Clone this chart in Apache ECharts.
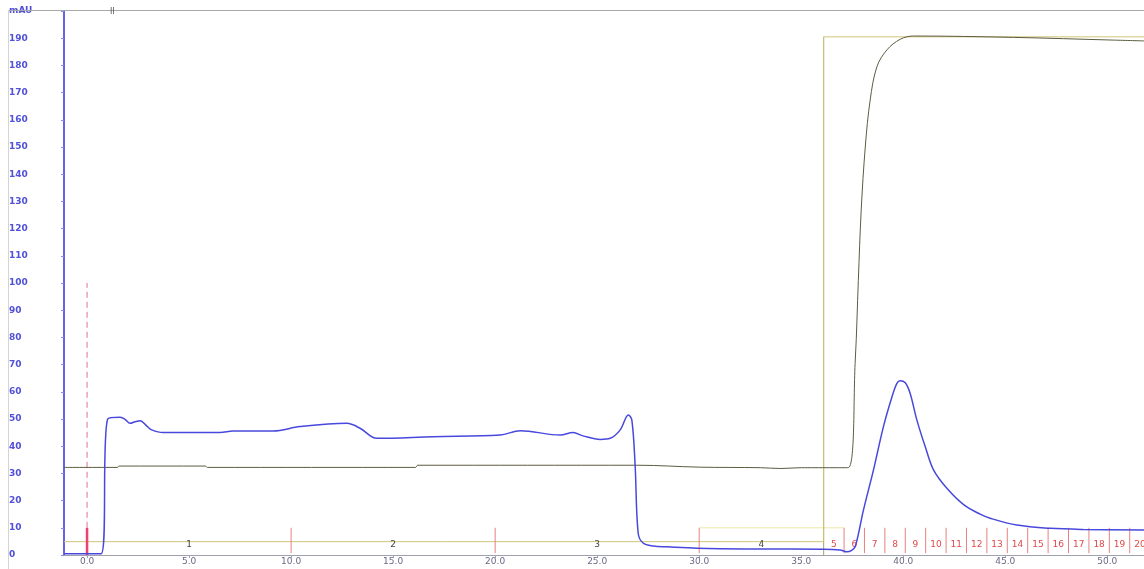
<!DOCTYPE html>
<html>
<head>
<meta charset="utf-8">
<script src="https://cdn.jsdelivr.net/npm/echarts@6/dist/echarts.min.js"></script>
<style>
  html, body { margin: 0; padding: 0; background: #fff; }
  #chart { width: 1144px; height: 569px; }
</style>
</head>
<body>
<div id="chart"></div>
<script>
// UV absorbance trace (mAU) against time (min)
const uvTime  = [-1.13, 0.69, 1.01, 1.62, 1.86, 2.11, 2.35, 2.60, 2.93, 3.17, 3.73, 6.52, 7.16, 9.12, 10.44, 12.73, 13.38, 14.2, 16.96, 20.25, 21.23, 23.19, 23.82, 24.31, 25.15, 25.64, 26.13, 26.53, 26.7, 26.86, 27.01, 27.25, 27.75, 28.43, 29.9, 32.99, 36.08, 36.91, 37.25, 37.45, 37.65, 38.05, 38.54, 39.03, 39.45, 39.69, 39.85, 40.10, 40.34, 40.67, 41.08, 41.49, 42.14, 42.96, 43.77, 44.26, 45.57, 47.21, 48.82, 51.8];
const uvValue = [0.5, 0.5, 50, 50.6, 49.9, 48.4, 49, 49.4, 47.4, 46, 45, 45, 45.6, 45.6, 47.2, 48.4, 46.6, 42.9, 43.5, 44.1, 45.7, 44.1, 45, 43.8, 42.5, 42.9, 46, 51.5, 49.6, 33, 8, 4.4, 3.3, 3, 2.5, 2.2, 2.1, 1.8, 1.2, 1.6, 3.1, 16.5, 31.2, 47.2, 58.2, 63.1, 64.1, 63.3, 59.4, 49.6, 39.8, 31.2, 24.5, 18.5, 15, 13.5, 11, 9.8, 9.4, 9.2];

// Conductivity trace
const condTime  = [-1.13, 1.5, 1.55, 5.8, 5.9, 16.1, 16.2, 27, 30, 33, 34, 35, 37.3, 37.65, 37.8, 37.94, 38.14, 38.38, 38.71, 39.2, 39.85, 40.5, 45.4, 50.3, 51.8];
const condValue = [32.2, 32.2, 32.7, 32.7, 32.2, 32.2, 33.0, 33.0, 32.3, 32.1, 31.8, 32.1, 32.1, 71.7, 101, 126.8, 150, 167.3, 179.5, 185.7, 189.6, 190.8, 190.3, 189.3, 189];

// Gradient / step program
const gradTime  = [-1.13, 36.1, 36.1, 51.8];
const gradValue = [4.9, 4.9, 190.5, 190.5];

// Fraction collection: boundaries (min) and fraction numbers
const fractionBounds = [0, 10, 20, 30, 36.1, 37.1, 38.1, 39.1, 40.1, 41.1, 42.1, 43.1, 44.1, 45.1, 46.1, 47.1, 48.1, 49.1, 50.1, 51.1, 52.1];
const fractionNames  = ['1', '2', '3', '4', '5', '6', '7', '8', '9', '10', '11', '12', '13', '14', '15', '16', '17', '18', '19', '20'];

// Injection mark and x-axis tick labels
const injectTime = 0;
const xTickValues = [0, 5, 10, 15, 20, 25, 30, 35, 40, 45, 50];

const zip = (a, b) => a.map((v, i) => [v, b[i]]);

const fractionTickData = fractionBounds
  .filter(t => t !== 0 && t !== 36.1 && t <= 51.8)
  .map(t => [t, 0]);
const fractionLabelData = fractionNames.map((n, i) => [
  (fractionBounds[i] + fractionBounds[i + 1]) / 2, 3.7, n, i
]);

const chart = echarts.init(document.getElementById('chart'), null, { renderer: 'canvas' });

chart.setOption({
  animation: false,
  backgroundColor: '#ffffff',
  grid: { left: 64, right: 0, top: 11, bottom: 14 },
  xAxis: {
    type: 'value',
    min: -1.13,
    max: 51.8,
    axisLine: { show: true, onZero: false, lineStyle: { color: '#a0a0b0', width: 1 } },
    axisTick: { show: true, customValues: xTickValues, length: 3, lineStyle: { color: '#a0a0b0' } },
    axisLabel: {
      customValues: xTickValues,
      formatter: v => v.toFixed(1),
      color: '#6a6a88',
      fontSize: 9,
      fontFamily: 'DejaVu Sans',
      margin: 2
    },
    splitLine: { show: false }
  },
  yAxis: {
    type: 'value',
    min: 0,
    max: 200,
    interval: 10,
    axisLine: { show: true, onZero: false, lineStyle: { color: '#6464e8', width: 2 } },
    axisTick: { show: true, length: 3, lineStyle: { color: '#8a8ae8' } },
    axisLabel: {
      align: 'left',
      margin: 55,
      color: '#5050d8',
      fontSize: 9,
      fontWeight: 'bold',
      fontFamily: 'DejaVu Sans',
      formatter: v => (v === 200 ? 'mAU' : String(v))
    },
    splitLine: { show: false }
  },
  graphic: [
    { type: 'line', shape: { x1: 8, y1: 10.5, x2: 1144, y2: 10.5 }, style: { stroke: '#a8a8a8', lineWidth: 1 }, z: 10 },
    { type: 'line', shape: { x1: 8.5, y1: 10, x2: 8.5, y2: 569 }, style: { stroke: '#d4d4d4', lineWidth: 1 }, z: 10 },
    { type: 'text', x: 110, y: 8, style: { text: 'II', fill: '#555', font: '8px DejaVu Sans' }, z: 10 }
  ],
  series: [
    {
      name: 'Gradient',
      type: 'line',
      data: zip(gradTime, gradValue),
      symbol: 'none',
      lineStyle: { color: '#cdc57a', width: 1 },
      z: 2
    },
    {
      name: 'Collector',
      type: 'line',
      data: [[30, 10], [37.1, 10]],
      symbol: 'none',
      lineStyle: { color: '#efe8a8', width: 1 },
      z: 1
    },
    {
      name: 'Fraction boundary',
      type: 'custom',
      data: [[36.1, 0]],
      encode: { x: 0, y: 1 },
      renderItem: (params, api) => {
        const a = api.coord([api.value(0), 0]);
        const b = api.coord([api.value(0), 190.5]);
        return { type: 'line', shape: { x1: a[0], y1: a[1], x2: b[0], y2: b[1] }, style: { stroke: '#a8a468', lineWidth: 1 } };
      },
      z: 2
    },
    {
      name: 'Fraction ticks',
      type: 'custom',
      data: fractionTickData,
      encode: { x: 0, y: 1 },
      renderItem: (params, api) => {
        const t = api.value(0);
        const a = api.coord([t, 0.7]);
        const b = api.coord([t, 10]);
        return { type: 'line', shape: { x1: a[0], y1: a[1], x2: b[0], y2: b[1] }, style: { stroke: '#e88080', lineWidth: 1 } };
      },
      z: 3
    },
    {
      name: 'Fraction labels',
      type: 'custom',
      data: fractionLabelData,
      encode: { x: 0, y: 1 },
      renderItem: (params, api) => {
        const p = api.coord([api.value(0), api.value(1)]);
        const idx = api.value(3);
        return {
          type: 'text',
          x: p[0],
          y: p[1],
          style: {
            text: fractionNames[idx],
            fill: idx < 4 ? '#444444' : '#e04848',
            font: '9px DejaVu Sans',
            align: 'center',
            verticalAlign: 'middle',
            textAlign: 'center',
            textVerticalAlign: 'middle'
          }
        };
      },
      z: 3
    },
    {
      name: 'Injection',
      type: 'custom',
      data: [[injectTime, 0]],
      encode: { x: 0, y: 1 },
      renderItem: (params, api) => {
        const t = api.value(0);
        const p0 = api.coord([t, 0]);
        const p1 = api.coord([t, 10]);
        const p2 = api.coord([t, 100]);
        return {
          type: 'group',
          children: [
            { type: 'line', shape: { x1: p1[0], y1: p1[1], x2: p2[0], y2: p2[1] }, style: { stroke: '#e0709c', lineWidth: 1, lineDash: [6, 4] } },
            { type: 'line', shape: { x1: p0[0], y1: p0[1], x2: p1[0], y2: p1[1] }, style: { stroke: '#f04070', lineWidth: 2.5 } }
          ]
        };
      },
      z: 4
    },
    {
      name: 'Conductivity',
      type: 'line',
      data: zip(condTime, condValue),
      symbol: 'none',
      smooth: 0.35,
      lineStyle: { color: '#5c5c40', width: 1 },
      z: 5
    },
    {
      name: 'UV',
      type: 'line',
      data: zip(uvTime, uvValue),
      symbol: 'none',
      smooth: 0.35,
      lineStyle: { color: '#4848dc', width: 1.5 },
      z: 6
    }
  ]
});
</script>
</body>
</html>
